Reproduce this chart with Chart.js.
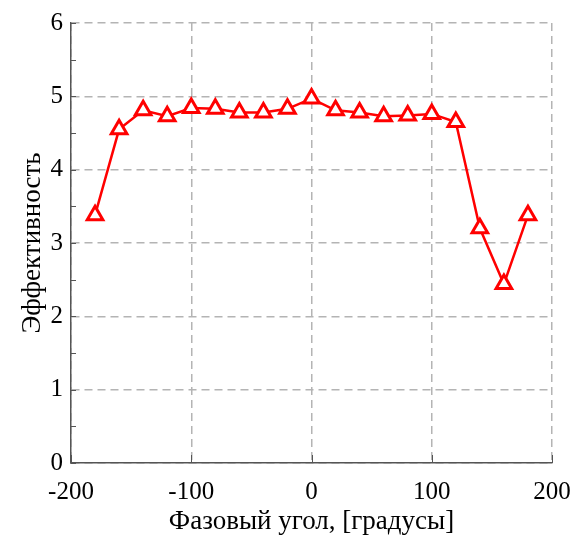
<!DOCTYPE html>
<html>
<head>
<meta charset="utf-8">
<script src="https://cdn.jsdelivr.net/npm/chart.js@4/dist/chart.umd.min.js"></script>
<style>
  html, body { margin: 0; padding: 0; background: #fff; }
  #wrap { width: 577px; height: 538px; }
</style>
</head>
<body>
<div id="wrap"><canvas id="c" width="577" height="538"></canvas></div>
<script>
// Phase angle, degrees
const phaseAngles = [-180, -160, -140, -120, -100, -80, -60, -40, -20, 0, 20, 40, 60, 80, 100, 120, 140, 160, 180];
// Efficiency at each angle
const efficiency = [3.38, 4.55, 4.81, 4.73, 4.84, 4.83, 4.78, 4.78, 4.83, 4.97, 4.81, 4.78, 4.73, 4.74, 4.76, 4.65, 3.20, 2.44, 3.38];

const xTicks = [-200, -100, 0, 100, 200];
const yTicks = [0, 1, 2, 3, 4, 5, 6];

const xTitle = 'Фазовый угол, [градусы]';
const yTitle = 'Эффективность';

const serif = '"Liberation Serif", "DejaVu Serif", serif';

// Short inward tick marks along the left and bottom axes
const innerTicks = {
  id: 'innerTicks',
  afterDatasetsDraw(chart) {
    const { ctx, scales: { x, y } } = chart;
    ctx.save();
    ctx.strokeStyle = '#555';
    ctx.lineWidth = 1;
    ctx.beginPath();
    for (let v = 0; v <= 6; v += 0.5) {
      const py = Math.round(y.getPixelForValue(v)) + 0.5;
      ctx.moveTo(x.left, py);
      ctx.lineTo(x.left + 5, py);
    }
    xTicks.forEach(v => {
      const px = Math.round(x.getPixelForValue(v)) + 0.5;
      ctx.moveTo(px, y.bottom);
      ctx.lineTo(px, y.bottom - 8);
    });
    ctx.stroke();
    ctx.restore();
  }
};

new Chart(document.getElementById('c'), {
  type: 'line',
  data: {
    datasets: [{
      data: phaseAngles.map((a, i) => ({ x: a, y: efficiency[i] })),
      borderColor: '#ff0000',
      borderWidth: 2.5,
      pointStyle: 'triangle',
      pointRadius: 9,
      pointBorderWidth: 3,
      pointBackgroundColor: '#ffffff',
      pointBorderColor: '#ff0000',
      tension: 0
    }]
  },
  options: {
    responsive: false,
    animation: false,
    devicePixelRatio: 1,
    layout: { padding: { top: 16, right: 25, left: 0, bottom: 0 } },
    plugins: { legend: { display: false }, tooltip: { enabled: false } },
    scales: {
      x: {
        type: 'linear',
        min: -200, max: 200,
        afterBuildTicks: s => { s.ticks = xTicks.map(v => ({ value: v })); },
        afterFit: s => { s.height = 75; s.paddingLeft = 0; s.paddingRight = 20; },
        grid: { color: '#b4b4b4', lineWidth: 1.5, drawTicks: false },
        border: { display: true, color: '#555', width: 1.5, dash: [8, 5] },
        ticks: { color: '#000', padding: 14, maxRotation: 0, font: { family: serif, size: 25 } },
        title: { display: true, text: xTitle, color: '#000', padding: { top: 3, bottom: 0 }, font: { family: serif, size: 27 } }
      },
      y: {
        min: 0, max: 6,
        afterBuildTicks: s => { s.ticks = yTicks.map(v => ({ value: v })); },
        afterFit: s => { s.width = 71; },
        grid: { color: '#b4b4b4', lineWidth: 1.5, drawTicks: false },
        border: { display: true, color: '#555', width: 1.5, dash: [8, 5] },
        ticks: { color: '#000', padding: 8, font: { family: serif, size: 25 } },
        title: { display: true, text: yTitle, color: '#000', padding: { top: 17, bottom: 0 }, font: { family: serif, size: 27 } }
      }
    }
  },
  plugins: [innerTicks]
});
</script>
</body>
</html>
